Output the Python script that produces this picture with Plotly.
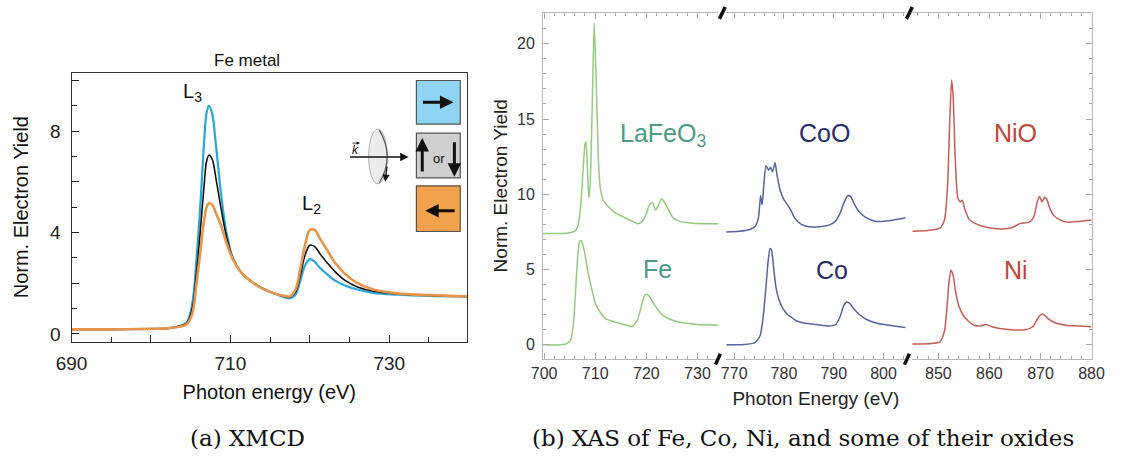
import plotly.graph_objects as go

W, H = 1125, 466

# ---------------- data: (a) XMCD, Fe metal ----------------
fe_energy = [690, 695, 700, 702, 703.5, 704.5, 705.2, 705.7, 706.2, 706.7, 707.0, 707.3, 707.7,
             708.2, 708.8, 709.5, 710.3, 711.3, 712.5, 714, 715.5, 716.8, 717.5, 718.2, 718.8,
             719.4, 720.0, 720.6, 721.3, 722.2, 723.2, 724.5, 726, 728, 731, 735, 740]
fe_blue = [0.18, 0.18, 0.2, 0.22, 0.3, 0.45, 1.2, 2.8, 5.0, 7.6, 8.7, 9.0, 8.7, 7.4, 5.6, 4.0,
           3.0, 2.45, 2.1, 1.8, 1.6, 1.45, 1.4, 1.55, 2.1, 2.7, 2.95, 2.85, 2.6, 2.35, 2.1, 1.9,
           1.75, 1.62, 1.55, 1.5, 1.47]
fe_black = [0.18, 0.18, 0.2, 0.22, 0.3, 0.42, 1.0, 2.3, 4.0, 5.9, 6.8, 7.05, 6.9, 6.1, 5.0, 3.85,
            3.0, 2.45, 2.1, 1.8, 1.6, 1.48, 1.45, 1.65, 2.3, 3.1, 3.5, 3.45, 3.15, 2.8, 2.45, 2.1,
            1.85, 1.68, 1.58, 1.52, 1.48]
fe_orange = [0.18, 0.18, 0.2, 0.22, 0.28, 0.38, 0.8, 1.9, 3.2, 4.5, 5.0, 5.15, 5.1, 4.75, 4.3,
             3.6, 2.95, 2.45, 2.1, 1.8, 1.6, 1.5, 1.48, 1.75, 2.55, 3.5, 4.1, 4.1, 3.75, 3.3, 2.8,
             2.35, 2.0, 1.75, 1.6, 1.53, 1.48]
a_xticks = [690, 700, 710, 720, 730, 740]
a_xticklabels = ["690", "", "710", "", "730", ""]
a_yticks = [0, 2, 4, 6, 8, 10]
a_yticklabels = ["0", "", "4", "", "8", ""]

# ---------------- data: (b) XAS ----------------
lafeo3_x = [699.8, 703, 705, 706, 706.6, 707.1, 707.6, 708.0, 708.2, 708.5, 708.75, 709.0, 709.4,
            709.8, 710.2, 710.6, 711.0, 711.6, 712.5, 714, 715.5, 717, 718.3, 719.2, 720.0, 720.6,
            721.2, 721.8, 722.4, 723.0, 723.6, 724.3, 725.2, 726.5, 728.5, 731, 734.1]
lafeo3_y = [7.4, 7.4, 7.45, 7.55, 7.9, 9.0, 11.5, 13.3, 13.5, 11.5, 9.8, 10.6, 15.5, 21.4, 17.5,
            12.5, 10.4, 9.6, 9.2, 8.75, 8.5, 8.25, 8.05, 8.2, 8.7, 9.3, 9.45, 8.95, 9.3, 9.7, 9.45,
            9.0, 8.45, 8.2, 8.1, 8.05, 8.05]
fe_x = [699.8, 703, 704.5, 705.3, 705.8, 706.2, 706.6, 707.0, 707.4, 707.9, 708.5, 709.2, 710,
        711, 712, 713.5, 715, 716.5, 717.2, 718.2, 718.9, 719.4, 719.9, 720.4, 721, 721.8, 722.8,
        724, 725.5, 727.5, 730, 734.1]
fe_y = [0, 0, 0.1, 0.4, 1.6, 3.8, 6.0, 6.9, 6.85, 6.2, 5.0, 3.9, 2.8, 2.15, 1.75, 1.55, 1.4,
        1.27, 1.2, 1.6, 2.4, 3.05, 3.35, 3.3, 3.0, 2.55, 2.1, 1.8, 1.6, 1.45, 1.35, 1.3]
coo_x = [768.4, 771, 773, 774.3, 774.9, 775.3, 775.6, 775.9, 776.4, 776.9, 777.3, 777.7, 778.2,
         778.6, 779.2, 779.9, 780.6, 781.3, 782.2, 783.5, 785, 787, 789, 790.3, 791.2, 792.0,
         792.8, 793.4, 794.2, 795.2, 796.5, 798.5, 801, 804.5]
coo_y = [7.5, 7.55, 7.65, 7.9, 8.5, 9.9, 9.3, 10.4, 11.9, 11.6, 11.8, 11.5, 12.1, 11.3, 10.3,
         9.7, 9.35, 9.0, 8.4, 8.0, 7.85, 7.85, 7.95, 8.2, 8.7, 9.4, 9.9, 9.85, 9.3, 8.8, 8.45,
         8.2, 8.25, 8.45]
co_x = [768.4, 772, 774.2, 775.2, 775.8, 776.3, 776.8, 777.2, 777.5, 777.9, 778.4, 779.0, 779.8,
        780.6, 781.4, 782.5, 784, 786.5, 789, 790.4, 791.3, 792.0, 792.6, 793.2, 794, 795.2,
        796.5, 798.5, 801, 804.5]
co_y = [0, 0.02, 0.15, 0.6, 1.8, 3.5, 5.5, 6.4, 6.3, 5.2, 3.8, 3.0, 2.4, 2.05, 1.85, 1.6, 1.45,
        1.35, 1.25, 1.35, 1.9, 2.6, 2.85, 2.75, 2.4, 2.0, 1.7, 1.45, 1.3, 1.15]
nio_x = [844.9, 848, 850.3, 851.2, 851.8, 852.2, 852.6, 852.9, 853.3, 853.8, 854.3, 854.7, 855.2,
         856, 857, 858.5, 860.5, 862.5, 864.5, 866, 867.8, 868.7, 869.3, 869.8, 870.3, 870.8,
         871.2, 871.8, 872.6, 873.8, 875.5, 877.5, 880]
nio_y = [7.55, 7.6, 7.75, 8.3, 10.5, 14.5, 17.6, 16.5, 12.5, 9.8, 9.5, 9.6, 9.0, 8.35, 8.1, 7.9,
         7.75, 7.7, 7.8, 8.05, 8.15, 8.5, 9.4, 9.85, 9.5, 9.8, 9.7, 9.1, 8.6, 8.3, 8.15, 8.2, 8.3]
ni_x = [844.9, 848, 850.3, 851.2, 851.7, 852.1, 852.5, 852.9, 853.4, 854.0, 854.8, 855.8, 857,
        858.2, 859.3, 860.5, 862, 864.5, 867, 868.5, 869.3, 869.9, 870.4, 871, 871.8, 873, 875,
        877.5, 880]
ni_y = [0.05, 0.07, 0.2, 0.9, 2.5, 4.2, 4.95, 4.6, 3.5, 2.6, 2.0, 1.6, 1.3, 1.25, 1.35, 1.2, 1.08,
        1.0, 1.0, 1.2, 1.65, 1.95, 2.05, 1.9, 1.65, 1.45, 1.3, 1.25, 1.2]
b_seg_ranges = [[699.8, 734.1], [768.4, 804.4], [844.9, 880]]
b_yticks = [0, 5, 10, 15, 20]

# ---------------- helpers ----------------
def px(x):
    return x / W

def py(y):
    return 1 - y / H

GREEN, BLUE, RED = "#93cb7f", "#56639f", "#c65d58"
GREEN_T, BLUE_T, RED_T = "#4c9c84", "#2a2c6c", "#c2443b"
FONT = "Liberation Sans, Arial, sans-serif"

fig = go.Figure()

# (a) curves
fig.add_trace(go.Scatter(x=fe_energy, y=fe_blue, mode="lines", line=dict(color="#29a6d6", width=2.2),
                         line_shape="spline", xaxis="x", yaxis="y", showlegend=False))
fig.add_trace(go.Scatter(x=fe_energy, y=fe_black, mode="lines", line=dict(color="#111111", width=1.6),
                         line_shape="spline", xaxis="x", yaxis="y", showlegend=False))
fig.add_trace(go.Scatter(x=fe_energy, y=fe_orange, mode="lines", line=dict(color="#e8944a", width=2.6),
                         line_shape="spline", xaxis="x", yaxis="y", showlegend=False))

# (b) curves
for xs, ys, col, xa in [(lafeo3_x, lafeo3_y, GREEN, "x2"), (fe_x, fe_y, GREEN, "x2"),
                        (coo_x, coo_y, BLUE, "x3"), (co_x, co_y, BLUE, "x3"),
                        (nio_x, nio_y, RED, "x4"), (ni_x, ni_y, RED, "x4")]:
    fig.add_trace(go.Scatter(x=xs, y=ys, mode="lines", line=dict(color=col, width=1.5),
                             line_shape="spline", line_smoothing=0.6,
                             xaxis=xa, yaxis="y2", showlegend=False))
# invisible trace to activate right mirror axis
fig.add_trace(go.Scatter(x=[870], y=[None], xaxis="x4", yaxis="y3", showlegend=False,
                         hoverinfo="skip"))

tickfont_a = dict(family=FONT, size=19, color="#222")
tickfont_b = dict(family=FONT, size=16, color="#333")

seg_dom = [[px(541), px(721)], [px(729), px(913)], [px(920), px(1104)]]

layout = dict(
    width=W, height=H, margin=dict(l=0, r=0, t=0, b=0),
    paper_bgcolor="white", plot_bgcolor="white",
    xaxis=dict(domain=[px(57), px(463)], range=[690, 739.8], anchor="y",
               tickvals=a_xticks, ticktext=a_xticklabels, ticks="inside", ticklen=7,
               tickcolor="#222", tickwidth=1.2, ticklabelstandoff=4,
               minor=dict(dtick=5, tick0=690, ticks="inside", ticklen=5, tickcolor="#222"),
               showline=True, linecolor="#333", linewidth=1.3, mirror=True,
               showgrid=False, zeroline=False, tickfont=tickfont_a,
               title=dict(text="Photon energy (eV)", font=dict(family=FONT, size=20, color="#111"),
                          standoff=12)),
    yaxis=dict(domain=[py(344), py(73)], range=[-0.31, 10.31], anchor="x",
               tickvals=a_yticks, ticktext=a_yticklabels, ticks="inside", ticklen=7,
               tickcolor="#222", tickwidth=1.2, ticklabelstandoff=6,
               minor=dict(dtick=1, tick0=0, ticks="inside", ticklen=5, tickcolor="#222"),
               showline=True, linecolor="#333", linewidth=1.3, mirror=True,
               showgrid=False, zeroline=False, tickfont=tickfont_a,
               title=dict(text="Norm. Electron Yield", font=dict(family=FONT, size=20, color="#111"),
                          standoff=16)),
    yaxis2=dict(domain=[py(361), py(13)], range=[-0.92, 22.05], anchor="x2",
                tickvals=b_yticks, ticks="inside", ticklen=6, tickcolor="#aaa",
                ticklabelstandoff=4,
                minor=dict(dtick=1, tick0=0, ticks="inside", ticklen=3, tickcolor="#aaa"),
                showline=True, linecolor="#bbb", linewidth=1, showgrid=False, zeroline=False,
                tickfont=tickfont_b,
                title=dict(text="Norm. Electron Yield", font=dict(family=FONT, size=19, color="#222"),
                           standoff=4)),
    yaxis3=dict(domain=[py(361), py(13)], range=[-0.92, 22.05], anchor="x4", overlaying="y2",
                side="right", tickvals=b_yticks, ticks="inside", ticklen=6, tickcolor="#aaa",
                minor=dict(dtick=1, tick0=0, ticks="inside", ticklen=3, tickcolor="#aaa"),
                showline=True, linecolor="#bbb", linewidth=1, showgrid=False, zeroline=False,
                showticklabels=False),
)
for i, (xa, rng, dom) in enumerate(zip(["xaxis2", "xaxis3", "xaxis4"], b_seg_ranges, seg_dom)):
    ax = dict(domain=dom, range=rng, anchor="y2", dtick=10, tick0=700, ticks="inside", ticklen=6,
              tickcolor="#aaa",
              minor=dict(dtick=2, tick0=700, ticks="inside", ticklen=3, tickcolor="#aaa"),
              showline=True, linecolor="#bbb", linewidth=1, mirror="ticks", showgrid=False,
              zeroline=False, tickfont=tickfont_b)
    if i == 1:
        ax["title"] = dict(text="Photon Energy (eV)", font=dict(family=FONT, size=19, color="#222"),
                           standoff=10)
    layout[xa] = ax
fig.update_layout(**layout)

ann = []
def text(x, y, s, size, color="#111", family=FONT, **kw):
    ann.append(dict(x=px(x), y=py(y), xref="paper", yref="paper", text=s, showarrow=False,
                    font=dict(family=family, size=size, color=color), xanchor="center",
                    yanchor="middle", **kw))

def arrow(hx, hy, tx, ty, width=3, size=0.9, color="#111", head=2):
    ann.append(dict(x=px(hx), y=py(hy), xref="paper", yref="paper", ax=tx - hx, ay=ty - hy,
                    axref="pixel", ayref="pixel", text="", showarrow=True, arrowhead=head,
                    arrowsize=size, arrowwidth=width, arrowcolor=color, standoff=0, startstandoff=0))

# (a) texts
text(237, 61, "Fe metal", 17)
text(181, 93, "L<sub>3</sub>", 20)
text(303, 206, "L<sub>2</sub>", 20)
# (b) texts
text(664, 136, "LaFeO<sub>3</sub>", 25, GREEN_T)
text(658, 271, "Fe", 25, GREEN_T)
text(830, 134, "CoO", 25, BLUE_T)
text(838, 272, "Co", 25, BLUE_T)
text(1026, 134, "NiO", 25, RED_T)
text(1026, 272, "Ni", 25, RED_T)
# captions
serif = "DejaVu Serif, Liberation Serif, serif"
text(238, 441, "(a) XMCD", 23, "#111", serif)
text(808, 441, "(b) XAS of Fe, Co, Ni, and some of their oxides", 23, "#111", serif)

# icon boxes
shapes = []
def rect(x0, y0, x1, y1, fill, line="#555"):
    shapes.append(dict(type="rect", xref="paper", yref="paper", x0=px(x0), x1=px(x1),
                       y0=py(y1), y1=py(y0), fillcolor=fill, line=dict(color=line, width=1.2)))
rect(411, 81, 456, 125, "#8fd4f3")
rect(411, 134, 456, 179, "#cfcfcf")
rect(411, 187, 456, 233, "#f2a14d")
arrow(449, 103, 417, 103)
arrow(417, 139, 417, 174)
arrow(450, 178, 450, 142)
arrow(420, 212, 451, 212)
text(434, 160, "or", 13)

# ellipse (light disc) with k-vector
shapes.append(dict(type="circle", xref="paper", yref="paper", x0=px(362), x1=px(381),
                   y0=py(185), y1=py(130), fillcolor="#ececec", line=dict(color="#b0b0b0", width=1)))
shapes.append(dict(type="path", xref="paper", yref="paper",
                   path=f"M {px(373)},{py(131)} Q {px(389)},{py(157.5)} {px(373)},{py(184)}",
                   line=dict(color="#555", width=1.2)))
arrow(403, 158, 343, 158, width=1.3, size=1.3)
arrow(379, 183, 381, 166, width=1.2, size=1.2)
text(348, 151, "<i>k</i>", 12)
arrow(353, 144, 344, 144, width=0.8, size=0.8)

# break marks
for (x0, y0, x1, y1) in [(722, 19, 728, 7), (914, 19, 920, 7), (718, 367, 723, 356), (912, 367, 917, 356)]:
    shapes.append(dict(type="line", xref="paper", yref="paper", x0=px(x0), y0=py(y0), x1=px(x1),
                       y1=py(y1), line=dict(color="#111", width=3.5)))

fig.update_layout(annotations=ann, shapes=shapes)
fig.write_html("out.html", config={"displayModeBar": False},
               post_script="document.body.style.margin='0';document.body.style.overflow='hidden';")
